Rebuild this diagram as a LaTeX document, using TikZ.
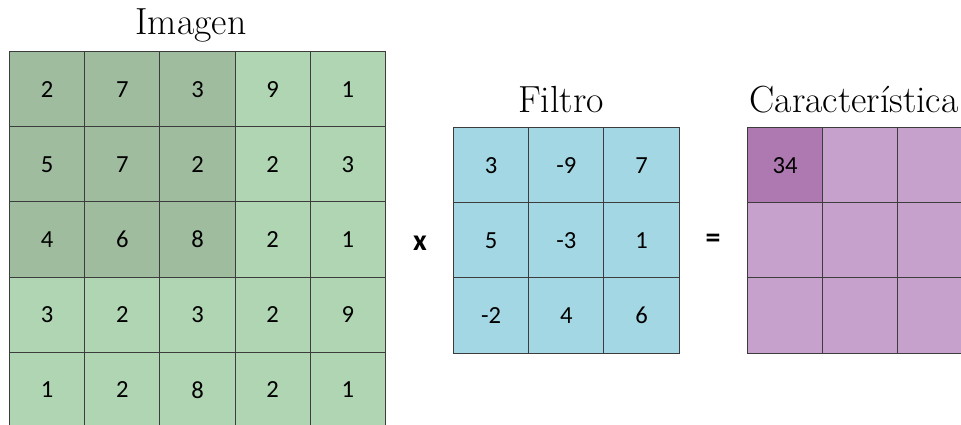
\documentclass[tikz,border=0pt]{standalone}
\usepackage{fontspec}
\newfontfamily\cellfont{Carlito}
\usepackage{xcolor}
\usepackage{tikz}
\usetikzlibrary{positioning}

\definecolor{imgdark}{HTML}{9FBC9F}
\definecolor{imglight}{HTML}{AFD5B2}
\definecolor{filtfill}{HTML}{A3D7E3}
\definecolor{featfill}{HTML}{C6A1CC}
\definecolor{featdark}{HTML}{AD79B0}
\definecolor{gridline}{HTML}{3C3C3C}

\begin{document}
\begin{tikzpicture}[
  x=0.02cm, y=-0.02cm,
  cell/.style={rectangle, draw=gridline, line width=0.6pt, anchor=north west,
    minimum size=1.504cm, inner sep=0pt, font=\cellfont\fontsize{14}{16}\selectfont},
  title/.style={anchor=base, inner sep=0pt, font=\fontsize{21.5}{24}\selectfont},
  op/.style={font=\cellfont\bfseries\fontsize{17}{19}\selectfont, inner sep=0pt},
]
\useasboundingbox (0,0) rectangle (961,425);
\clip (0,0) rectangle (961,425);

% ========= Imagen (5x5, window 3x3 shaded) =========
\foreach \v [count=\i from 0] in {2,7,3,9,1, 5,7,2,2,3, 4,6,8,2,1, 3,2,3,2,9, 1,2,8,2,1} {
  \pgfmathtruncatemacro\r{\i/5}
  \pgfmathtruncatemacro\c{mod(\i,5)}
  \pgfmathtruncatemacro\win{and(\r<3,\c<3)}
  \ifnum\win=1 \def\shade{imgdark}\else\def\shade{imglight}\fi
  \node[cell, fill=\shade] (img-\r-\c) at (9+75.2*\c, 51+75.2*\r) {\v};
}

% ========= Filtro (3x3) =========
\foreach \v [count=\i from 0] in {3,-9,7, 5,-3,1, -2,4,6} {
  \pgfmathtruncatemacro\r{\i/3}
  \pgfmathtruncatemacro\c{mod(\i,3)}
  \node[cell, fill=filtfill] (flt-\r-\c) at (453+75.2*\c, 127+75.2*\r) {\v};
}

% ========= Caracteristica (3x3, first entry) =========
\foreach \i in {0,...,8} {
  \pgfmathtruncatemacro\r{\i/3}
  \pgfmathtruncatemacro\c{mod(\i,3)}
  \node[cell, fill=featfill] (ftr-\r-\c) at (747+75.2*\c, 127+75.2*\r) {};
}
\node[cell, fill=featdark] (ftr-0-0) at (747, 127) {34};

% ========= Titles and operators =========
\node[title] (imgtitle) at (191, 35) {Imagen};
\node[title] (flttitle) at (561, 113) {Filtro};
\node[title, anchor=base east] (ftrtitle) at (959, 113) {Característica};

\node[op] (times) at (420, 243) {x};
\node[op] (equals) at (713, 241) {=};

\end{tikzpicture}
\end{document}
